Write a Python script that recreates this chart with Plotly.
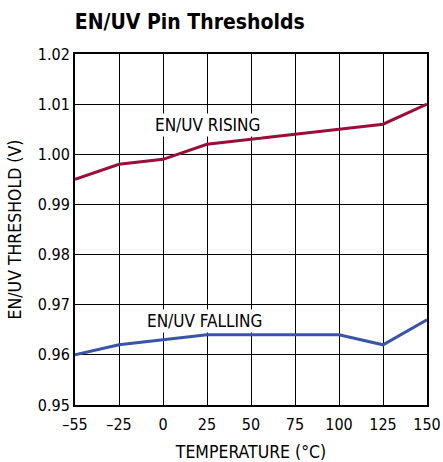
import plotly.graph_objects as go

temps = ["–55", "–25", "0", "25", "50", "75", "100", "125", "150"]
rising = [0.995, 0.998, 0.999, 1.002, 1.003, 1.004, 1.005, 1.006, 1.010]
falling = [0.960, 0.962, 0.963, 0.964, 0.964, 0.964, 0.964, 0.962, 0.967]
y_ticks = [0.95, 0.96, 0.97, 0.98, 0.99, 1.00, 1.01, 1.02]

xi = list(range(len(temps)))
FONT = "DejaVu Sans Condensed, Liberation Sans Narrow, Roboto Condensed, sans-serif"

fig = go.Figure()
fig.add_trace(go.Scatter(x=xi, y=rising, mode="lines",
                         line=dict(color="#9a0f3a", width=3), showlegend=False))
fig.add_trace(go.Scatter(x=xi, y=falling, mode="lines",
                         line=dict(color="#3b55a6", width=3), showlegend=False))

fig.add_annotation(x=3, y=1.0059, text="EN/UV RISING", showarrow=False,
                   font=dict(family=FONT, size=17, color="black"), bgcolor="white")
fig.add_annotation(x=2.95, y=0.9667, text="EN/UV FALLING", showarrow=False,
                   font=dict(family=FONT, size=17, color="black"), bgcolor="white")

fig.update_layout(
    width=443, height=462,
    margin=dict(l=75, r=16, t=54, b=57),
    paper_bgcolor="white", plot_bgcolor="white",
    title=dict(text="<b>EN/UV Pin Thresholds</b>", x=0.169, xanchor="left",
               y=0.954, yanchor="middle",
               font=dict(family=FONT, size=21, color="black")),
    font=dict(family=FONT, size=16, color="black"),
)
fig.update_xaxes(range=[0, 8], tickmode="array", tickvals=xi, ticktext=temps,
                 showgrid=True, gridcolor="black", gridwidth=1,
                 showline=True, linecolor="black", linewidth=2, mirror=True,
                 zeroline=False, ticks="", automargin=False, ticklabelstandoff=4,
                 title=dict(text="TEMPERATURE (°C)", standoff=19,
                            font=dict(family=FONT, size=17.5)))
fig.update_yaxes(range=[0.95, 1.02], tickmode="array", tickvals=y_ticks,
                 ticktext=[f"{v:.2f}" for v in y_ticks],
                 showgrid=True, gridcolor="black", gridwidth=1,
                 showline=True, linecolor="black", linewidth=2, mirror=True,
                 zeroline=False, ticks="", automargin=False,
                 title=dict(text="EN/UV THRESHOLD (V)", standoff=12,
                            font=dict(family=FONT, size=17.5)))

fig.write_html("out.html", config={"displayModeBar": False},
               post_script="document.body.style.margin='0';document.body.style.overflow='hidden';")
